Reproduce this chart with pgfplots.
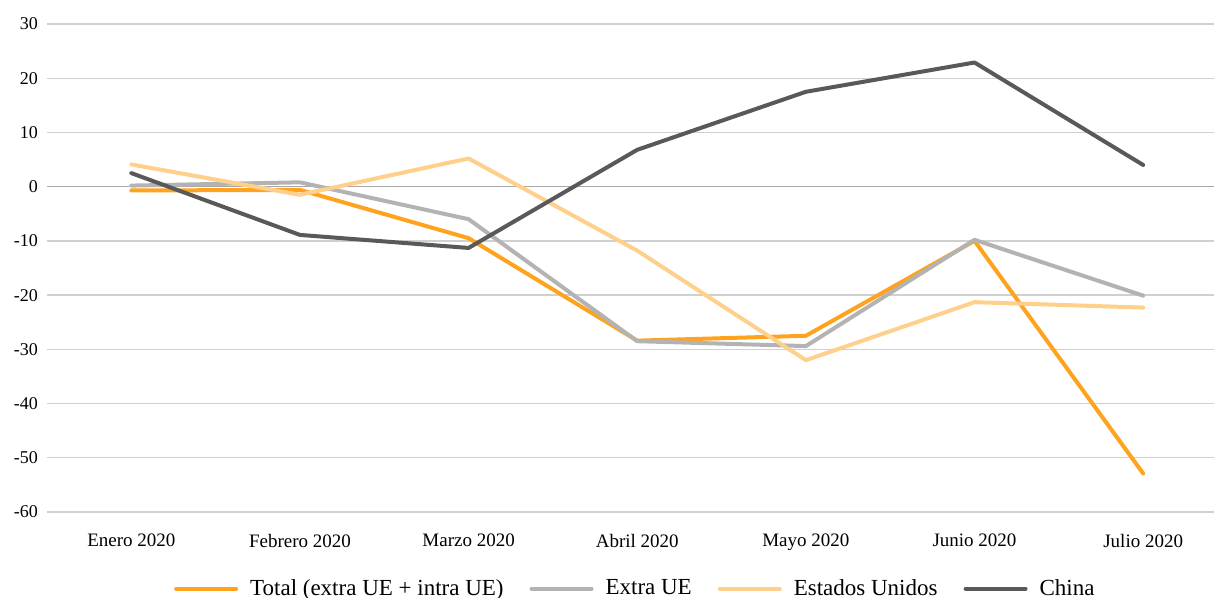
\documentclass[border=0pt]{standalone}
\usepackage{pgfplots}
\pgfplotsset{compat=1.18}
\usepackage{fontspec}
\setmainfont{Liberation Serif}
\definecolor{cTotal}{HTML}{FFA31F}
\definecolor{cExtra}{HTML}{B3B3B3}
\definecolor{cEEUU}{HTML}{FFD08C}
\definecolor{cChina}{HTML}{595959}
\definecolor{cGrid}{HTML}{D0D0D0}
\definecolor{cZero}{HTML}{A8A8A8}
\begin{document}
\begin{tikzpicture}
\useasboundingbox (0,0) rectangle (607pt,299pt);
\begin{axis}[
  at={(23.5pt,43pt)}, anchor=south west,
  scale only axis,
  width=583.5pt, height=244pt,
  xmin=-0.5, xmax=6.42,
  ymin=-60, ymax=30,
  ytick={-60,-50,...,30},
  xtick={0,...,6},
  xticklabels={Enero 2020,Febrero 2020,Marzo 2020,Abril 2020,Mayo 2020,Junio 2020,Julio 2020},
  axis line style={draw=none},
  major tick length=0pt,
  ymajorgrids, grid style={cGrid, line width=0.7pt},
  tick label style={text=black},
  /pgf/number format/assume math mode=true,
  yticklabel style={xshift=-1pt, font=\fontsize{9}{10}\selectfont},
  xticklabel style={yshift=-7.5pt, font=\fontsize{9.5}{11}\selectfont},
  legend style={draw=none, at={(0.505,-0.157)}, anchor=center,
    legend columns=-1, font=\fontsize{11.5}{13}\selectfont,
    /tikz/every odd column/.append style={column sep=4pt},
    /tikz/every even column/.append style={column sep=11pt}},
  legend image code/.code={\draw[#1, line width=2pt] (0pt,0pt) -- (30pt,0pt);},
  every axis plot/.append style={line width=2pt, line join=round, line cap=round, mark=none},
]
\draw[cZero, line width=0.8pt] (axis cs:-0.5,0) -- (axis cs:6.42,0);
\addplot[cTotal] coordinates {(0,-0.7) (1,-0.6) (2,-9.5) (3,-28.4) (4,-27.5) (5,-10.0) (6,-52.9)};
\addlegendentry{Total (extra UE + intra UE)}
\addplot[cExtra] coordinates {(0,0.2) (1,0.8) (2,-6.0) (3,-28.5) (4,-29.4) (5,-9.8) (6,-20.1)};
\addlegendentry{Extra UE}
\addplot[cEEUU] coordinates {(0,4.1) (1,-1.5) (2,5.2) (3,-11.8) (4,-32.0) (5,-21.3) (6,-22.3)};
\addlegendentry{Estados Unidos}
\addplot[cChina] coordinates {(0,2.5) (1,-8.9) (2,-11.3) (3,6.8) (4,17.5) (5,22.9) (6,4.0)};
\addlegendentry{China}
\end{axis}
\end{tikzpicture}
\end{document}
